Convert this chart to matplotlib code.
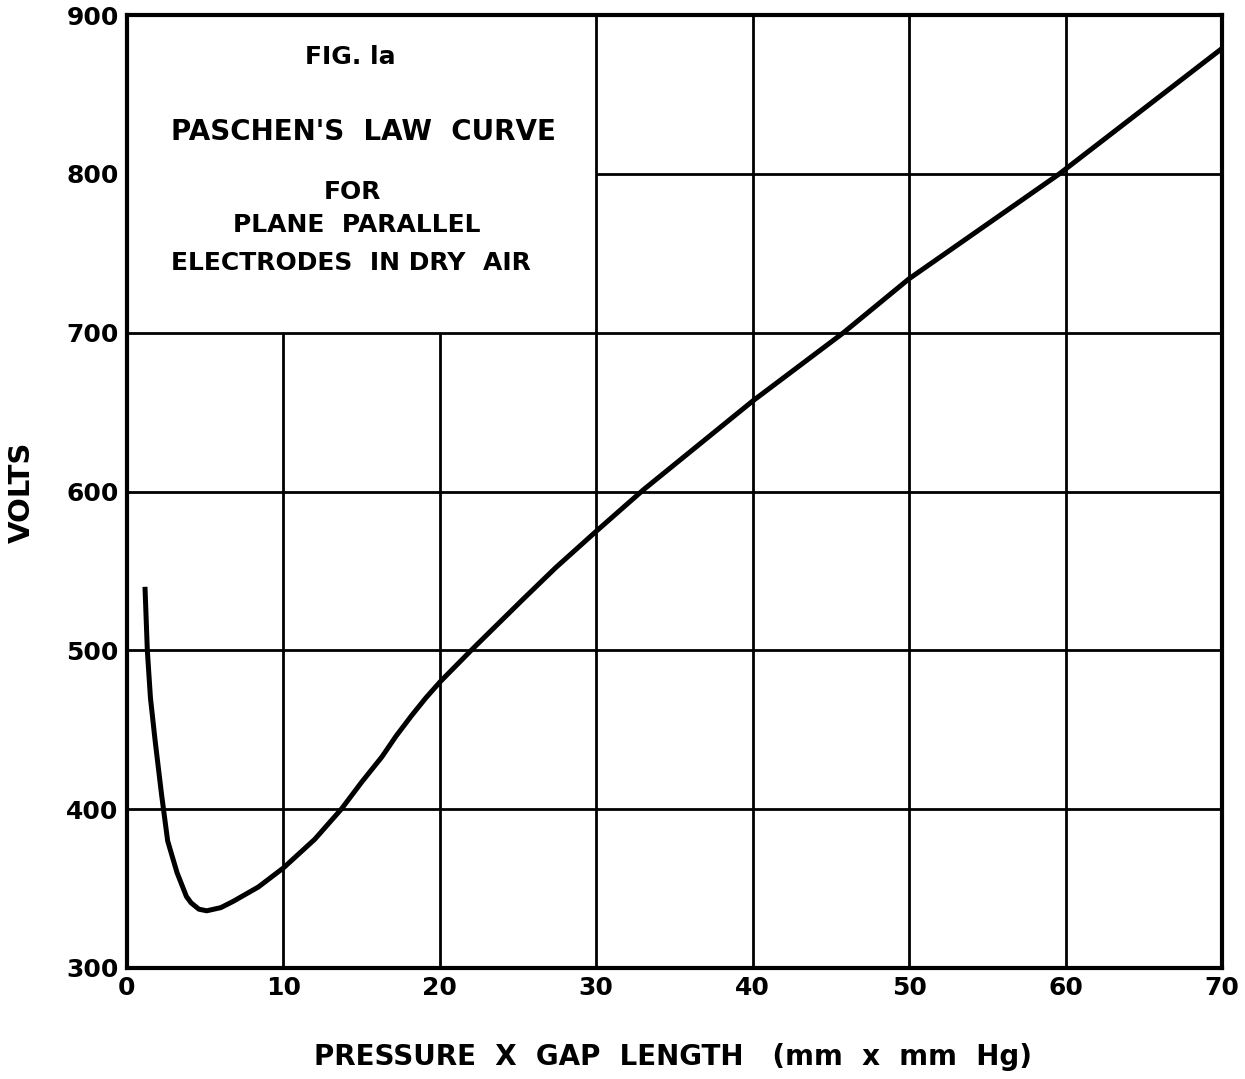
import numpy as np
import matplotlib.pyplot as plt

# Paschen curve
pd_vals = [1.15, 1.3, 1.5, 1.8, 2.2, 2.6, 3.2, 3.8, 4.1, 4.6, 5.1, 6.0,
           6.8, 8.4, 10.0, 12.0, 13.7, 15.0, 16.3, 17.2, 18.2, 19.1, 20.0,
           22.0, 25.3, 27.4, 30.0, 31.5, 33.0, 35.0, 40.0, 45.8, 50.0,
           59.6, 70.0]
volts = [540, 500, 470, 443, 410, 380, 360, 345, 341, 337, 336, 338,
         342, 351, 363, 381, 400, 417, 433, 446, 459, 470, 480,
         500, 532, 552, 575, 588, 601, 617, 657, 700, 734,
         800, 879]

x_ticks = [0, 10, 20, 30, 40, 50, 60, 70]
y_ticks = [300, 400, 500, 600, 700, 800, 900]

box_lines = ["FIG. la", "PASCHEN'S  LAW  CURVE", "FOR", "PLANE  PARALLEL",
             "ELECTRODES  IN DRY  AIR"]
box_x = [14.3, 15.1, 14.4, 14.7, 14.3]
box_y = [873.6, 826.3, 788.6, 767.8, 743.9]
box_sizes = [18, 20, 18, 18, 18]

plt.rcParams['font.family'] = ['DejaVu Sans']

fig = plt.figure(figsize=(12.45, 10.79), dpi=100)
ax = fig.add_axes([0.102, 0.1029, 0.8795, 0.8831])

ax.set_xlim(0, 70)
ax.set_ylim(300, 900)

# grid, with the upper-left corner left free for the caption box
lw_grid = 2.0
for xv in x_ticks[1:-1]:
    top = 700 if xv < 30 else 900
    ax.vlines(xv, 300, top, color="black", lw=lw_grid, zorder=1)
for yv in y_ticks[1:-1]:
    left = 30 if yv > 700 else 0
    ax.hlines(yv, left, 70, color="black", lw=lw_grid, zorder=1)

ax.plot(pd_vals, volts, color="black", lw=3.6, solid_capstyle="butt",
        solid_joinstyle="round", zorder=3)

for txt, xv, yv, fs in zip(box_lines, box_x, box_y, box_sizes):
    ax.text(xv, yv, txt, ha="center", va="center", fontsize=fs,
            fontweight="bold")

for sp in ax.spines.values():
    sp.set_linewidth(3)

ax.set_xticks(x_ticks)
ax.set_yticks(y_ticks)
ax.tick_params(length=0, labelsize=18, pad=6)
for lab in ax.get_xticklabels() + ax.get_yticklabels():
    lab.set_fontweight("bold")

fig.text(0.5406, 0.0204, "PRESSURE  X  GAP  LENGTH   (mm  x  mm  Hg)",
         ha="center", va="center", fontsize=20, fontweight="bold")
fig.text(0.0177, 0.544, "VOLTS", ha="center", va="center", rotation=90,
         fontsize=21, fontweight="bold")

fig.savefig("out.png", dpi=100)
